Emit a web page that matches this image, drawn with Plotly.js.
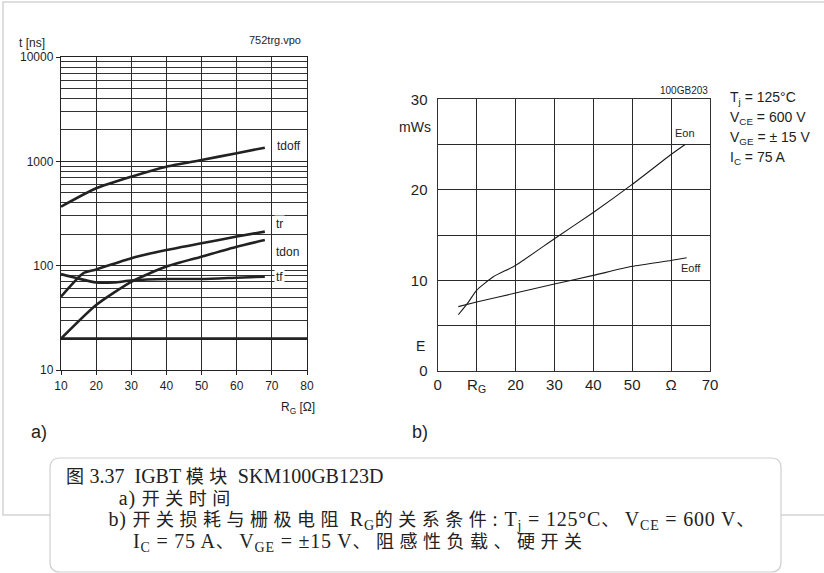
<!DOCTYPE html>
<html>
<head>
<meta charset="utf-8">
<script src="https://cdn.plot.ly/plotly-3.0.1.min.js"></script>
<style>
html,body{margin:0;padding:0;background:#fff;}
#chart{width:824px;height:573px;}
g.annotation[data-index="19"] text,
g.annotation[data-index="20"] text,
g.annotation[data-index="21"] text { letter-spacing: 0.8px; }
</style>
</head>
<body>
<div id="chart"></div>
<script>
// ---------- Data: a) switching times vs R_G (log scale, ns) ----------
const rgTdoff = [10, 20, 30, 40, 50, 60, 68];
const tdoff   = [368, 552, 713, 889, 1030, 1197, 1352];

const rgTr = [10, 16.3, 20, 30, 40, 50, 60, 68];
const tr   = [50.5, 84.5, 92, 118, 141, 164, 190, 212];

const rgTdon = [10, 20, 30, 40, 50, 60, 68];
const tdon   = [20, 42, 70, 98, 122, 152, 176];

const rgTf = [10, 14.4, 20, 25, 30, 40, 50, 60, 68];
const tf   = [83, 76, 69, 69, 72, 74.5, 74.5, 76.7, 78.5];

const rgBase = [10, 80];
const tBase  = [20, 20];

const aXTicks = [10, 20, 30, 40, 50, 60, 70, 80];
const aYTicks = [10, 100, 1000, 10000];
const aYTickText = ['10', '100', '1000', '10000'];
const aYMinor = [20,30,40,50,60,70,80,90,200,300,400,500,600,700,800,900,2000,3000,4000,5000,6000,7000,8000,9000];

// ---------- Data: b) switching losses vs R_G (mWs) ----------
const rgEon = [5.3, 7.9, 10, 14.3, 20, 30, 40, 50, 60, 63.6];
const eon   = [6.2, 7.6, 8.9, 10.4, 11.65, 14.6, 17.5, 20.6, 23.9, 25.0];

const rgEoff = [5.3, 10, 20, 30, 40, 50, 60, 64];
const eoff   = [7.1, 7.6, 8.6, 9.6, 10.55, 11.55, 12.2, 12.5];

const bXTicks = [0, 10, 20, 30, 40, 50, 60, 70];
const bXTickText = ['0', 'R<sub>G</sub>', '20', '30', '40', '50', 'Ω', '70'];
const bYTicks = [0, 5, 10, 15, 20, 25, 30];
const bYTickText = ['0', '', '10', '', '20', '', '30'];

const conditions = ['T<sub>j</sub> = 125°C', 'V<sub>CE</sub> = 600 V', 'V<sub>GE</sub> = ± 15 V', 'I<sub>C</sub> = 75 A'];

const captionLines = [
  '图3.37  IGBT 模块 SKM100GB123D',
  'a) 开关时间',
  'b) 开关损耗与栅极电阻 R<sub>G</sub>的关系条件: T<sub>j</sub> = 125°C、V<sub>CE</sub> = 600 V、',
  'I<sub>C</sub> = 75 A、V<sub>GE</sub> = ±15 V、阻感性负载、硬开关'
];

// ---------- helpers (pixel -> paper) ----------
const W = 824, H = 573;
const px = x => x / W;
const py = y => 1 - y / H;

const sans = 'Liberation Sans, Arial, sans-serif';
const serif = 'Liberation Serif, Noto Sans CJK SC, serif';
const ink = '#1e1e1e';

// typeset CJK runs with tracking, as in the printed caption
const cjkStyle = s => s.replace(/([\u3000-\u303f\u4e00-\u9fff\uff00-\uffef]+)/g,
  '<span style="font-family:Noto Sans CJK SC;font-size:18px;letter-spacing:5.5px">$1</span>');

const thick = {color: '#222', width: 2.6, shape: 'spline', smoothing: 0.6};
const thin = {color: '#1a1a1a', width: 1.1, shape: 'spline', smoothing: 0.5};

const traces = [
  {x: rgBase, y: tBase, mode: 'lines', line: {color: '#222', width: 2.6}, xaxis: 'x', yaxis: 'y', hoverinfo: 'skip'},
  {x: rgTdoff, y: tdoff, mode: 'lines', line: thick, xaxis: 'x', yaxis: 'y', name: 'tdoff'},
  {x: rgTr, y: tr, mode: 'lines', line: thick, xaxis: 'x', yaxis: 'y', name: 'tr'},
  {x: rgTdon, y: tdon, mode: 'lines', line: thick, xaxis: 'x', yaxis: 'y', name: 'tdon'},
  {x: rgTf, y: tf, mode: 'lines', line: thick, xaxis: 'x', yaxis: 'y', name: 'tf'},
  {x: rgEon, y: eon, mode: 'lines', line: thin, xaxis: 'x2', yaxis: 'y2', name: 'Eon'},
  {x: rgEoff, y: eoff, mode: 'lines', line: thin, xaxis: 'x2', yaxis: 'y2', name: 'Eoff'}
];

const ann = [];
function t(text, x, y, size, opts) {
  ann.push(Object.assign({text: text, x: px(x), y: py(y), xref: 'paper', yref: 'paper',
    showarrow: false, font: {family: sans, size: size, color: ink}, xanchor: 'center', yanchor: 'middle'}, opts || {}));
}
// a) labels
t('t [ns]', 32, 43, 12);
t('752trg.vpo', 275, 40, 11);
t('R<sub>G</sub> [Ω]', 298, 408, 12);
t('a)', 39, 432, 18);
t('tdoff', 289, 146, 12, {bgcolor: '#fff'});
t('tr', 279, 224, 12, {bgcolor: '#fff'});
t('tdon', 287, 252, 12, {bgcolor: '#fff'});
t('tf', 279, 277, 12, {bgcolor: '#fff'});
// b) labels
t('mWs', 415, 127, 14);
t('E', 420, 346, 14);
t('100GB203', 710, 90, 10, {xanchor: 'right'});
t('Eon', 685, 133, 11);
t('Eoff', 691, 268, 11);
t('b)', 420, 432, 18);
const condY = [98, 118, 138, 158];
conditions.forEach((c, i) => t(c, 728, condY[i], 14, {xanchor: 'left'}));
// caption lines (annotation indices 18..21)
const capX = [64, 118, 118, 139];
const capY = [475, 497, 519, 541];
captionLines.forEach((c, i) => t(cjkStyle(c), capX[i], capY[i], 20, {xanchor: 'left',
  font: {family: serif, size: 20, color: '#222'}}));

// caption box rounded path
const bx0 = px(50), bx1 = px(781), by0 = py(458), by1 = py(572);
const rx = 10 / W, ry = 10 / H;
const boxPath = `M ${bx0 + rx} ${by0} L ${bx1 - rx} ${by0} Q ${bx1} ${by0} ${bx1} ${by0 - ry} L ${bx1} ${by1 + ry} Q ${bx1} ${by1} ${bx1 - rx} ${by1} L ${bx0 + rx} ${by1} Q ${bx0} ${by1} ${bx0} ${by1 + ry} L ${bx0} ${by0 - ry} Q ${bx0} ${by0} ${bx0 + rx} ${by0} Z`;

const shapes = [
  {type: 'rect', xref: 'paper', yref: 'paper', x0: px(3), x1: px(840), y0: py(515), y1: py(2),
   line: {color: '#d4d4d4', width: 1.5}, fillcolor: 'rgba(0,0,0,0)', layer: 'below'},
  {type: 'path', xref: 'paper', yref: 'paper', path: boxPath, line: {color: '#cfcfcf', width: 1.2}, fillcolor: '#fff', layer: 'above'}
];

const layout = {
  width: W, height: H,
  margin: {l: 0, r: 0, t: 0, b: 0},
  paper_bgcolor: '#fff', plot_bgcolor: '#fff',
  showlegend: false,
  font: {family: sans, color: ink},
  xaxis: {
    domain: [px(61), px(307)], range: [10, 80], tickvals: aXTicks,
    showgrid: true, gridcolor: '#2a2a2a', gridwidth: 1.2,
    showline: true, linecolor: '#222', linewidth: 1.4, mirror: true,
    ticks: 'outside', ticklen: 4, tickcolor: '#222', tickfont: {size: 12, family: sans, color: ink},
    zeroline: false, fixedrange: true, anchor: 'y'
  },
  yaxis: {
    domain: [py(370), py(57)], type: 'log', range: [1, 4],
    tickvals: aYTicks, ticktext: aYTickText,
    showgrid: true, gridcolor: '#2a2a2a', gridwidth: 1.3,
    minor: {tickvals: aYMinor, showgrid: true, gridcolor: '#333', gridwidth: 1, ticks: ''},
    showline: true, linecolor: '#222', linewidth: 1.4, mirror: true,
    ticks: 'outside', ticklen: 4, tickcolor: '#222', tickfont: {size: 12, family: sans, color: ink},
    zeroline: false, fixedrange: true, anchor: 'x'
  },
  xaxis2: {
    domain: [px(437.7), px(710)], range: [0, 70], tickvals: bXTicks, ticktext: bXTickText,
    showgrid: true, gridcolor: '#2a2a2a', gridwidth: 1.1,
    showline: true, linecolor: '#333', linewidth: 1.3, mirror: true,
    ticks: '', tickfont: {size: 15, family: sans, color: ink},
    zeroline: false, fixedrange: true, anchor: 'y2'
  },
  yaxis2: {
    domain: [py(370.9), py(99.3)], range: [0, 30], tickvals: bYTicks, ticktext: bYTickText,
    showgrid: true, gridcolor: '#2a2a2a', gridwidth: 1.1,
    showline: true, linecolor: '#333', linewidth: 1.3, mirror: true,
    ticks: '', ticklabelstandoff: 6, tickfont: {size: 15, family: sans, color: ink},
    zeroline: false, fixedrange: true, anchor: 'x2'
  },
  annotations: ann,
  shapes: shapes
};

Plotly.newPlot('chart', traces, layout, {displayModeBar: false});
</script>
</body>
</html>
